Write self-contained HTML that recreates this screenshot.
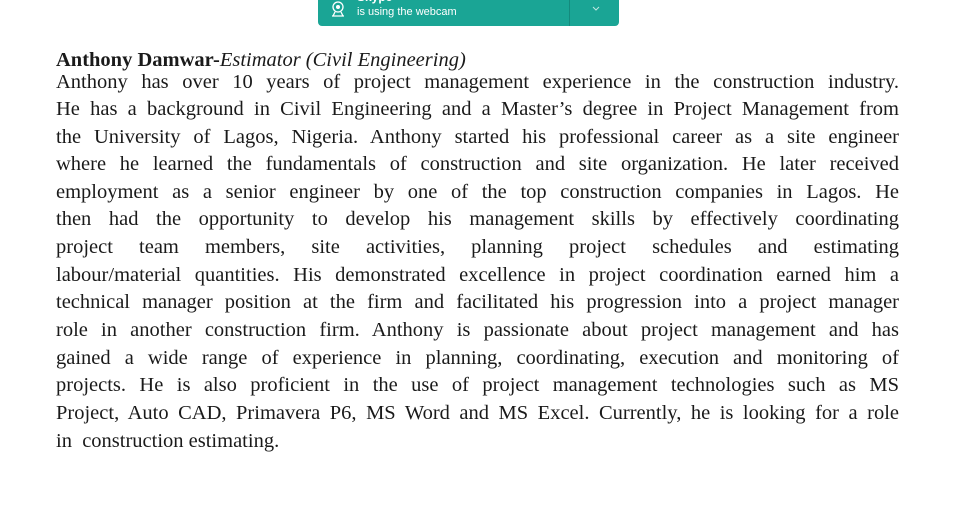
<!DOCTYPE html>
<html><head><meta charset="utf-8">
<style>
html,body{margin:0;padding:0;background:#fff;width:962px;height:512px;overflow:hidden;position:relative}
.banner{position:absolute;left:318px;top:-6px;width:301px;height:32px;background:#1aa595;border-radius:0 0 4px 4px;font-family:"Liberation Sans",sans-serif;color:#fff}
.banner .sub{position:absolute;left:39px;top:12px;font-size:11px}
.banner .ttl{position:absolute;left:39px;top:-4px;font-size:12px;font-weight:bold}
.banner .div{position:absolute;left:251px;top:0;width:1px;height:32px;background:#148a7d}
.doc{position:absolute;left:56px;top:8px;width:843px;font-family:"Liberation Serif",serif;font-size:20.5px;color:#1a1a1a}
.ln{position:absolute;left:0;width:843px;height:28px;line-height:28px;white-space:nowrap;text-align:justify;text-align-last:justify}
.last{text-align-last:left}
</style></head><body>
<div class="banner">
  <svg style="position:absolute;left:12px;top:6px" width="16" height="18" viewBox="0 0 16 18"><circle cx="8" cy="7" r="5" fill="none" stroke="#fff" stroke-width="1.3"/><circle cx="8" cy="7" r="2" fill="#fff"/><path d="M2 16h12M5 12l-2 4M11 12l2 4" stroke="#fff" stroke-width="1.3" fill="none"/></svg>
  <span class="ttl">Skype</span>
  <span class="sub">is using the webcam</span>
  <div class="div"></div>
  <svg style="position:absolute;left:274px;top:12px" width="8" height="6" viewBox="0 0 8 6"><path d="M1 1l3 3 3-3" stroke="#bfe6e0" fill="none" stroke-width="1"/></svg>
</div>
<div class="doc">
  <div class="ln last" style="top:38px"><b>Anthony Damwar-</b><i>Estimator (Civil Engineering)</i></div>
  <div class="ln" style="top:60px">Anthony has over 10 years of project management experience in the construction industry.</div>
  <div class="ln" style="top:87px">He has a background in Civil Engineering and a Master’s degree in Project Management from</div>
  <div class="ln" style="top:115px">the University of Lagos, Nigeria. Anthony started his professional career as a site engineer</div>
  <div class="ln" style="top:142px">where he learned the fundamentals of construction and site organization. He later received</div>
  <div class="ln" style="top:170px">employment as a senior engineer by one of the top construction companies in Lagos. He</div>
  <div class="ln" style="top:197px">then had the opportunity to develop his management skills by effectively coordinating</div>
  <div class="ln" style="top:225px">project team members, site activities, planning project schedules and estimating</div>
  <div class="ln" style="top:253px">labour/material quantities. His demonstrated excellence in project coordination earned him a</div>
  <div class="ln" style="top:280px">technical manager position at the firm and facilitated his progression into a project manager</div>
  <div class="ln" style="top:308px">role in another construction firm. Anthony is passionate about project management and has</div>
  <div class="ln" style="top:336px">gained a wide range of experience in planning, coordinating, execution and monitoring of</div>
  <div class="ln" style="top:363px">projects. He is also proficient in the use of project management technologies such as MS</div>
  <div class="ln" style="top:391px">Project, Auto CAD, Primavera P6, MS Word and MS Excel. Currently, he is looking for a role</div>
  <div class="ln last" style="top:419px">in&nbsp; construction estimating.</div>
</div>
</body></html>
